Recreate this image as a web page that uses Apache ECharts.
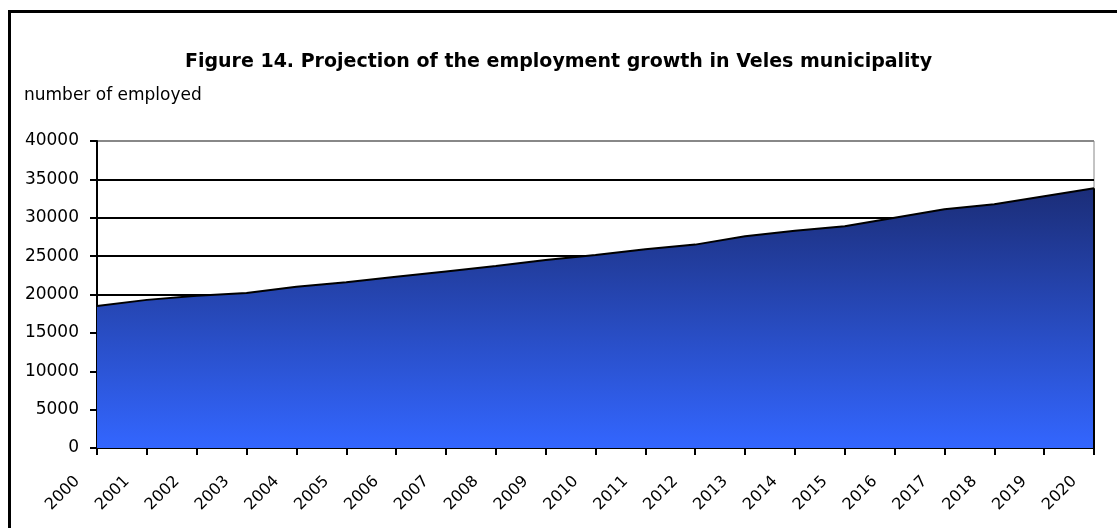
<!DOCTYPE html>
<html>
<head>
<meta charset="utf-8">
<script src="https://cdn.jsdelivr.net/npm/echarts@6/dist/echarts.min.js"></script>
<style>
  html, body { margin: 0; padding: 0; background: #fff; }
  #main { width: 1117px; height: 528px; }
  /* outer frame of the original figure (only left and top edges are visible) */
  .frame {
    position: absolute; left: 8px; top: 10px; width: 1200px; height: 600px;
    border-left: 3px solid #000; border-top: 3px solid #000;
    pointer-events: none;
  }
</style>
</head>
<body>
<div id="main"></div>
<div class="frame"></div>
<script>
// years on the x axis
var years = ['2000', '2001', '2002', '2003', '2004', '2005', '2006', '2007', '2008', '2009', '2010',
  '2011', '2012', '2013', '2014', '2015', '2016', '2017', '2018', '2019', '2020'];
// number of employed
var employed = [18500, 19300, 19850, 20200, 21000, 21600, 22300, 23000, 23700, 24500, 25150,
  25900, 26500, 27600, 28300, 28900, 30000, 31100, 31750, 32800, 33850];
var yTicks = { min: 0, max: 40000, step: 5000 };

var font = 'DejaVu Sans';
var myChart = echarts.init(document.getElementById('main'));

var option = {
  animation: false,
  title: [
    {
      text: 'Figure 14. Projection of the employment growth in Veles municipality',
      left: 'center',
      top: 48,
      textStyle: { fontFamily: font, fontSize: 19, fontWeight: 'bold', color: '#000' }
    },
    {
      text: 'number of employed',
      left: 19,
      top: 82,
      textStyle: { fontFamily: font, fontSize: 17, fontWeight: 'normal', color: '#000' }
    }
  ],
  grid: {
    left: 97, right: 23, top: 141, bottom: 80,
    show: true, borderColor: '#888', borderWidth: 1, backgroundColor: 'transparent'
  },
  xAxis: {
    type: 'category',
    data: years,
    boundaryGap: false,
    axisLine: { lineStyle: { color: '#000', width: 2 } },
    axisTick: { show: true, length: 7, lineStyle: { color: '#000', width: 2 } },
    axisLabel: {
      rotate: 45, margin: 11, padding: [0, 28, 0, 0],
      fontFamily: font, fontSize: 16, color: '#000', interval: 0
    },
    splitLine: { show: false }
  },
  yAxis: {
    type: 'value',
    min: yTicks.min, max: yTicks.max, interval: yTicks.step,
    axisLine: { show: true, lineStyle: { color: '#000', width: 2 } },
    axisTick: { show: true, length: 7, lineStyle: { color: '#000', width: 2 } },
    axisLabel: {
      margin: 18, fontFamily: font, fontSize: 17, color: '#000',
      formatter: function (v) { return String(v); }
    },
    splitLine: {
      show: true,
      lineStyle: {
        color: ['#000', '#000', '#000', '#000', '#000', '#000', '#000', '#000', '#888'],
        width: 2
      }
    }
  },
  series: [
    {
      name: 'employed',
      type: 'line',
      data: employed,
      symbol: 'none',
      lineStyle: { color: '#000', width: 2 },
      areaStyle: {
        opacity: 1,
        color: new echarts.graphic.LinearGradient(0, 0, 0, 1, [
          { offset: 0, color: '#1b2d78' },
          { offset: 1, color: '#3366ff' }
        ])
      },
      z: 3,
      markLine: {
        silent: true,
        symbol: 'none',
        label: { show: false },
        lineStyle: { color: '#000', width: 2, type: 'solid' },
        data: [
          [
            { coord: [years[years.length - 1], 0] },
            { coord: [years[years.length - 1], employed[employed.length - 1]] }
          ]
        ]
      }
    }
  ]
};

myChart.setOption(option);
</script>
</body>
</html>
